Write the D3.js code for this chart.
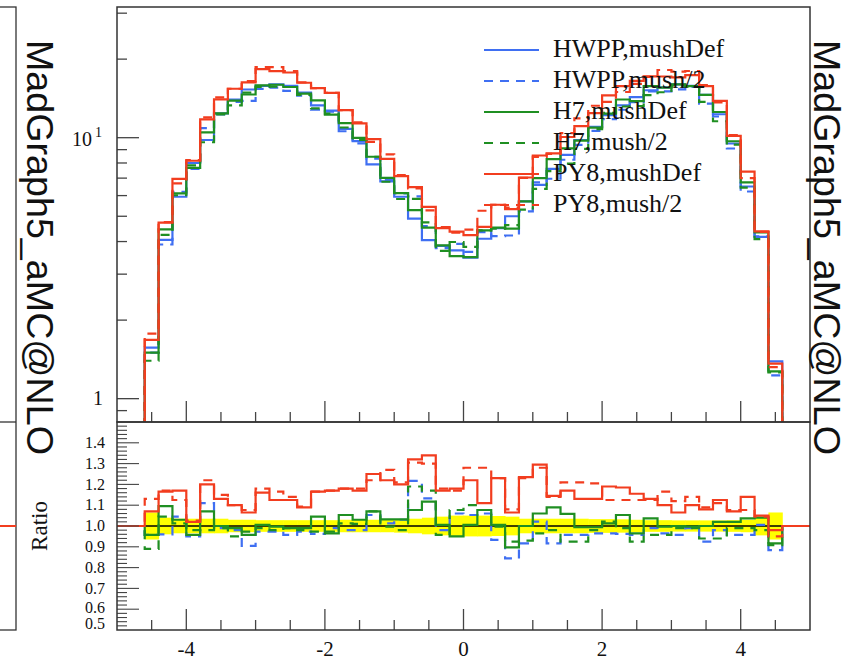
<!DOCTYPE html>
<html lang="en">
<head>
  <meta charset="UTF-8">
  <title>MadGraph5_aMC@NLO</title>
  <style>
    body { margin: 0; background: #fff; }
    text { fill: #111; }
  </style>
</head>
<body>
  <svg></svg>
  <script src="https://cdn.jsdelivr.net/npm/d3@7"></script>
  <script>
    // bins of width 0.2 from -4.6 to 4.6
    var binLow = -4.6, binWidth = 0.2;

    // reference: HWPP,mushDef
    var hwppDef = [1.57, 4.06, 5.94, 8.0, 9.8, 12.4, 14.0, 15.3, 15.8, 16.0,
      15.8, 14.9, 13.3, 12.7, 10.8, 9.7, 7.9, 6.8, 5.94, 4.9,
      4.05, 3.85, 3.7, 3.47, 4.1, 4.5, 5.0, 5.7, 6.6, 7.6,
      8.6, 9.8, 11.0, 12.2, 13.3, 14.3, 15.2, 15.6, 16.0, 15.8,
      14.6, 12.3, 9.5, 6.5, 4.17, 1.39];

    // ratios to HWPP,mushDef
    var hwppHalf = [0.957, 0.96, 1.045, 0.95, 1.11, 0.99, 0.98, 0.904, 0.973, 0.973,
      0.957, 0.973, 0.962, 0.99, 0.98, 0.98, 1.053, 1.013, 1.03, 1.217,
      1.133, 0.98, 1.06, 1.053, 1.06, 0.933, 0.844, 0.916, 1.021, 0.916,
      0.957, 0.957, 0.965, 0.965, 0.962, 0.957, 0.99, 0.965, 0.957, 0.99,
      0.925, 0.98, 0.957, 0.957, 1.005, 0.884];
    var h7Def = [0.957, 1.096, 1.03, 0.957, 1.07, 1.0, 0.99, 0.957, 1.005, 0.997,
      0.99, 0.99, 1.045, 0.965, 1.053, 1.03, 1.07, 1.032, 1.032, 1.077,
      1.117, 1.005, 0.95, 1.005, 1.077, 1.005, 0.897, 1.0, 1.06, 1.09,
      1.058, 0.994, 0.994, 1.013, 1.053, 0.965, 1.037, 0.997, 1.0, 0.997,
      1.0, 1.02, 1.02, 1.037, 1.04, 0.916];
    var h7Half = [0.89, 1.045, 1.013, 0.98, 0.98, 0.99, 0.95, 0.973, 0.99, 0.98,
      0.99, 0.98, 0.973, 0.973, 1.013, 1.01, 1.07, 0.997, 0.98, 1.19,
      1.17, 0.957, 1.077, 1.10, 1.077, 0.997, 0.925, 0.93, 0.965, 0.98,
      0.925, 0.925, 0.98, 1.021, 0.99, 0.925, 0.957, 0.957, 0.99, 0.99,
      0.94, 0.94, 0.99, 0.99, 0.98, 0.908];
    var py8Def = [1.07, 1.165, 1.17, 1.02, 1.20, 1.13, 1.10, 1.065, 1.16, 1.125,
      1.125, 1.09, 1.165, 1.17, 1.18, 1.17, 1.25, 1.22, 1.20, 1.32,
      1.34, 1.17, 1.18, 1.22, 1.11, 1.23, 1.065, 1.235, 1.295, 1.145,
      1.17, 1.13, 1.13, 1.19, 1.185, 1.155, 1.13, 1.10, 1.065, 1.10,
      1.08, 1.125, 1.07, 1.14, 1.05, 0.98];
    var py8Half = [1.13, 1.17, 1.125, 1.026, 1.22, 1.15, 1.10, 1.077, 1.18, 1.165,
      1.14, 1.093, 1.165, 1.17, 1.18, 1.18, 1.22, 1.27, 1.21, 1.305,
      1.30, 1.18, 1.17, 1.28, 1.28, 1.23, 1.08, 1.23, 1.28, 1.14,
      1.21, 1.21, 1.205, 1.125, 1.125, 1.125, 1.125, 1.165, 1.12, 1.14,
      1.09, 1.11, 1.077, 1.077, 1.045, 0.95];

    // half width of the yellow band around 1
    var bandHalf = [0.065, 0.04, 0.035, 0.035, 0.035, 0.035, 0.03, 0.03, 0.028, 0.028,
      0.028, 0.028, 0.028, 0.028, 0.03, 0.03, 0.03, 0.03, 0.032, 0.035,
      0.04, 0.045, 0.05, 0.05, 0.05, 0.048, 0.045, 0.035, 0.035, 0.035,
      0.035, 0.035, 0.033, 0.033, 0.032, 0.03, 0.028, 0.028, 0.027, 0.027,
      0.027, 0.027, 0.028, 0.03, 0.045, 0.065];

    var seriesNames = ["HWPP,mushDef", "HWPP,mush/2", "H7,mushDef", "H7,mush/2", "PY8,mushDef", "PY8,mush/2"];
    var seriesRatios = [null, hwppHalf, h7Def, h7Half, py8Def, py8Half];
    var seriesColors = ["#3f6ff2", "#3f6ff2", "#1f8f22", "#1f8f22", "#f23d1f", "#f23d1f"];
    var seriesDashed = [false, true, false, true, false, true];

    var xTicks = [-4, -2, 0, 2, 4];
    var mainTicks = [1, 10];
    var ratioTicks = [1.4, 1.3, 1.2, 1.1, 1.0, 0.9, 0.8, 0.7, 0.6, 0.5];

    var W = 848, H = 660;
    var pLeft = 117, pRight = 810, pTop = 7, pMid = 422, pBottom = 630;
    var serif = "'Liberation Serif', serif";

    var svg = d3.select("svg").attr("width", W).attr("height", H);
    svg.append("rect").attr("width", W).attr("height", H).attr("fill", "#fff");

    var x = d3.scaleLinear().domain([-5, 5]).range([pLeft, pRight]);
    var y = d3.scaleLog().domain([0.814, 31.68]).range([pMid, pTop]);
    var yr = d3.scaleLinear().domain([0.5, 1.5]).range([pBottom, pMid]);

    svg.append("clipPath").attr("id", "clipTop").append("rect")
      .attr("x", pLeft).attr("y", pTop).attr("width", pRight - pLeft).attr("height", pMid - pTop);
    svg.append("clipPath").attr("id", "clipBot").append("rect")
      .attr("x", pLeft).attr("y", pMid).attr("width", pRight - pLeft).attr("height", pBottom - pMid);

    // neighbouring plot cut at the left edge
    svg.append("rect").attr("x", -2).attr("y", pTop).attr("width", 18).attr("height", pBottom - pTop)
      .attr("fill", "none").attr("stroke", "#333").attr("stroke-width", 1.3);
    svg.append("line").attr("x1", 0).attr("x2", 16).attr("y1", pMid).attr("y2", pMid)
      .attr("stroke", "#333").attr("stroke-width", 1.3);
    svg.append("line").attr("x1", 0).attr("x2", 16).attr("y1", yr(1)).attr("y2", yr(1))
      .attr("stroke", "#f23d1f").attr("stroke-width", 2);

    function edges(i) { return [binLow + i * binWidth, binLow + (i + 1) * binWidth]; }
    var binHigh = binLow + hwppDef.length * binWidth;

    // step path for the upper panel (drops to zero outside the range)
    function mainPath(vals) {
      var p = d3.path();
      p.moveTo(x(binLow), pMid + 5);
      vals.forEach(function(v, i) {
        var e = edges(i);
        p.lineTo(x(e[0]), y(v));
        p.lineTo(x(e[1]), y(v));
      });
      p.lineTo(x(binHigh), pMid + 5);
      return p.toString();
    }
    // step path for ratio panel (equal to 1 outside the range)
    function ratioPath(vals) {
      var p = d3.path();
      p.moveTo(x(-5), yr(1));
      p.lineTo(x(binLow), yr(1));
      vals.forEach(function(v, i) {
        var e = edges(i);
        p.lineTo(x(e[0]), yr(v));
        p.lineTo(x(e[1]), yr(v));
      });
      p.lineTo(x(binHigh), yr(1));
      p.lineTo(x(5), yr(1));
      return p.toString();
    }

    // ---- upper panel
    var gTop = svg.append("g").attr("clip-path", "url(#clipTop)");
    seriesNames.forEach(function(name, s) {
      var vals = hwppDef.map(function(v, i) {
        return seriesRatios[s] ? v * seriesRatios[s][i] : v;
      });
      gTop.append("path")
        .attr("d", mainPath(vals))
        .attr("fill", "none")
        .attr("stroke", seriesColors[s])
        .attr("stroke-width", 2.2)
        .attr("stroke-dasharray", seriesDashed[s] ? "9,7" : null);
    });

    // ---- ratio panel
    var gBot = svg.append("g").attr("clip-path", "url(#clipBot)");
    gBot.selectAll("rect.band")
      .data(bandHalf)
      .join("rect")
      .attr("class", "band")
      .attr("x", function(d, i) { return x(edges(i)[0]); })
      .attr("width", function(d, i) { return x(edges(i)[1]) - x(edges(i)[0]) + 0.5; })
      .attr("y", function(d) { return yr(1 + d); })
      .attr("height", function(d) { return yr(1 - d) - yr(1 + d); })
      .attr("fill", "#ffff00");
    gBot.append("line")
      .attr("x1", x(-5)).attr("x2", x(5)).attr("y1", yr(1)).attr("y2", yr(1))
      .attr("stroke", "#000").attr("stroke-width", 1.3);
    seriesNames.forEach(function(name, s) {
      if (!seriesRatios[s]) return;
      gBot.append("path")
        .attr("d", ratioPath(seriesRatios[s]))
        .attr("fill", "none")
        .attr("stroke", seriesColors[s])
        .attr("stroke-width", 2.2)
        .attr("stroke-dasharray", seriesDashed[s] ? "9,7" : null);
    });

    // ---- ticks
    var tickColor = "#444";
    function xTicksAt(yBase) {
      var g = svg.append("g");
      d3.range(-4.5, 4.51, 0.5).forEach(function(t) {
        var major = xTicks.indexOf(Math.round(t * 10) / 10) >= 0;
        g.append("line")
          .attr("x1", x(t)).attr("x2", x(t))
          .attr("y1", yBase).attr("y2", yBase - (major ? 21 : 10))
          .attr("stroke", tickColor).attr("stroke-width", 1.3);
      });
    }
    xTicksAt(pMid);
    xTicksAt(pBottom);

    // log y ticks
    var gy = svg.append("g");
    [0.9, 2, 3, 4, 5, 6, 7, 8, 9, 20, 30].forEach(function(t) {
      gy.append("line").attr("x1", pLeft).attr("x2", pLeft + 10)
        .attr("y1", y(t)).attr("y2", y(t))
        .attr("stroke", tickColor).attr("stroke-width", 1.3);
    });
    mainTicks.forEach(function(t) {
      gy.append("line").attr("x1", pLeft).attr("x2", pLeft + 22)
        .attr("y1", y(t)).attr("y2", y(t))
        .attr("stroke", tickColor).attr("stroke-width", 1.3);
    });
    // "1" and "10^1"
    gy.append("text").attr("x", 103).attr("y", y(1) + 6)
      .attr("text-anchor", "end").style("font-family", serif).attr("font-size", 20).text("1");
    var t10 = gy.append("text").attr("x", 102).attr("y", y(10) + 8)
      .attr("text-anchor", "end").style("font-family", serif).attr("font-size", 20);
    t10.append("tspan").text("10");
    t10.append("tspan").attr("dy", -9).attr("dx", 3).attr("font-size", 14).text("1");

    // ratio y ticks
    var gr = svg.append("g");
    d3.range(0.52, 1.49, 0.02).forEach(function(t) {
      var major = Math.abs(t * 10 - Math.round(t * 10)) < 1e-6;
      gr.append("line").attr("x1", pLeft).attr("x2", pLeft + (major ? 22 : 10))
        .attr("y1", yr(t)).attr("y2", yr(t))
        .attr("stroke", tickColor).attr("stroke-width", 1.1);
    });
    gr.selectAll("text")
      .data(ratioTicks)
      .join("text")
      .attr("x", 105)
      .attr("y", function(d) { return yr(d); })
      .attr("dy", function(d) { return d === 0.5 ? "-0.05em" : (d === 0.6 ? "0.22em" : "0.33em"); })
      .attr("text-anchor", "end")
      .style("font-family", serif)
      .attr("font-size", 16)
      .text(function(d) { return d3.format(".1f")(d); });

    svg.append("text")
      .attr("transform", "translate(47," + yr(1) + ") rotate(-90)")
      .attr("text-anchor", "middle")
      .style("font-family", serif)
      .attr("font-size", 23)
      .text("Ratio");

    // x labels
    svg.append("g").selectAll("text")
      .data(xTicks)
      .join("text")
      .attr("x", function(d) { return x(d); })
      .attr("y", 656)
      .attr("text-anchor", "middle")
      .style("font-family", serif)
      .attr("font-size", 21)
      .text(function(d) { return d; });

    // frames
    svg.append("rect").attr("x", pLeft).attr("y", pTop).attr("width", pRight - pLeft).attr("height", pMid - pTop)
      .attr("fill", "none").attr("stroke", "#333").attr("stroke-width", 1.5);
    svg.append("rect").attr("x", pLeft).attr("y", pMid).attr("width", pRight - pLeft).attr("height", pBottom - pMid)
      .attr("fill", "none").attr("stroke", "#333").attr("stroke-width", 1.5);

    // legend
    var legend = svg.append("g").attr("transform", "translate(484, 50)");
    seriesNames.forEach(function(name, s) {
      var row = legend.append("g").attr("transform", "translate(0," + (s * 31) + ")");
      row.append("line").attr("x1", 0).attr("x2", 55).attr("y1", 0).attr("y2", 0)
        .attr("stroke", seriesColors[s]).attr("stroke-width", 2.2)
        .attr("stroke-dasharray", seriesDashed[s] ? "9,7" : null);
      row.append("text").attr("x", 69).attr("y", 7)
        .style("font-family", serif).attr("font-size", 26).text(name);
    });

    // generator label on both sides
    [27, 814].forEach(function(px) {
      svg.append("text")
        .attr("transform", "translate(" + px + ",40) rotate(90)")
        .style("font-family", "'Liberation Sans', sans-serif")
        .attr("font-size", 37)
        .attr("textLength", 415)
        .attr("lengthAdjust", "spacingAndGlyphs")
        .text("MadGraph5_aMC@NLO");
    });
  </script>
</body>
</html>
